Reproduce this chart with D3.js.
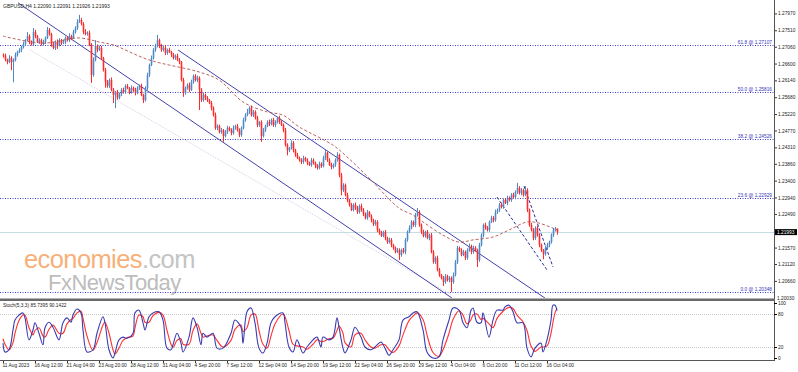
<!DOCTYPE html>
<html>
<head>
<meta charset="utf-8">
<script src="https://cdn.jsdelivr.net/npm/d3@7/dist/d3.min.js"></script>
<style>
  body { margin: 0; background: #fff; }
  svg { display: block; }
  text { font-family: "Liberation Sans", Arial, sans-serif; }
</style>
</head>
<body>
<div id="chart"></div>
<script>
// GBPUSD H4 candles, one per bar (open = previous close)
var firstOpen = 1.2684;
var closes = [
  1.2681,1.2670,1.2664,1.2675,1.2664,1.2670,1.2684,1.2692,1.2697,1.2705,1.2713,1.2724,1.2735,1.2719,1.2713,1.2746,1.2735,1.2719,1.2724,1.2713,
  1.2719,1.2730,1.2752,1.2741,1.2713,1.2703,1.2719,1.2711,1.2724,1.2716,1.2719,1.2730,1.2724,1.2735,1.2730,1.2746,1.2757,1.2774,1.2779,1.2768,
  1.2746,1.2741,1.2744,1.2711,1.2629,1.2670,1.2708,1.2697,1.2703,1.2675,1.2642,1.2610,1.2599,1.2615,1.2588,1.2574,1.2582,1.2566,1.2577,1.2588,
  1.2582,1.2599,1.2593,1.2582,1.2593,1.2588,1.2580,1.2593,1.2599,1.2574,1.2560,1.2593,1.2629,1.2656,1.2675,1.2697,1.2708,1.2724,1.2708,1.2697,
  1.2703,1.2689,1.2697,1.2692,1.2684,1.2675,1.2681,1.2670,1.2664,1.2615,1.2580,1.2593,1.2601,1.2588,1.2610,1.2626,1.2615,1.2621,1.2588,1.2560,
  1.2574,1.2566,1.2560,1.2552,1.2539,1.2519,1.2484,1.2489,1.2473,1.2478,1.2462,1.2473,1.2484,1.2478,1.2470,1.2484,1.2489,1.2478,1.2465,1.2484,
  1.2506,1.2519,1.2528,1.2539,1.2519,1.2528,1.2511,1.2492,1.2500,1.2462,1.2478,1.2489,1.2500,1.2495,1.2506,1.2492,1.2500,1.2511,1.2500,1.2492,
  1.2478,1.2437,1.2423,1.2429,1.2443,1.2423,1.2410,1.2402,1.2396,1.2391,1.2402,1.2396,1.2388,1.2383,1.2396,1.2388,1.2380,1.2375,1.2386,1.2380,
  1.2402,1.2416,1.2396,1.2383,1.2377,1.2383,1.2396,1.2410,1.2355,1.2314,1.2328,1.2301,1.2287,1.2274,1.2260,1.2274,1.2266,1.2254,1.2271,1.2260,
  1.2249,1.2238,1.2254,1.2243,1.2232,1.2221,1.2227,1.2205,1.2197,1.2189,1.2200,1.2183,1.2172,1.2178,1.2164,1.2156,1.2145,1.2150,1.2137,1.2150,
  1.2145,1.2178,1.2200,1.2211,1.2227,1.2219,1.2246,1.2254,1.2219,1.2200,1.2189,1.2200,1.2183,1.2191,1.2145,1.2118,1.2129,1.2096,1.2082,1.2074,
  1.2063,1.2079,1.2068,1.2074,1.2063,1.2082,1.2118,1.2156,1.2150,1.2137,1.2145,1.2129,1.2150,1.2161,1.2145,1.2156,1.2150,1.2123,1.2164,1.2191,
  1.2219,1.2211,1.2205,1.2227,1.2238,1.2232,1.2254,1.2260,1.2274,1.2268,1.2287,1.2279,1.2293,1.2287,1.2301,1.2295,1.2309,1.2320,1.2306,1.2314,
  1.2301,1.2314,1.2260,1.2219,1.2205,1.2183,1.2211,1.2191,1.2164,1.2150,1.2139,1.2156,1.2164,1.2172,1.2191,1.2205,1.2209,1.21993
];
// wick lengths in pips above / below the body
var upWick = [
  4,6,3,8,5,4,6,3,5,4,7,3,11,5,4,11,6,3,5,4,
  6,4,8,5,3,6,4,7,5,3,6,4,5,8,4,6,5,7,14,6,
  5,8,4,6,5,7,16,4,6,5,3,6,5,4,7,5,3,6,4,5,
  6,4,5,3,7,4,6,5,4,6,3,5,6,4,7,5,6,14,4,6,
  5,7,4,6,3,5,4,6,5,3,6,4,5,7,6,4,5,6,4,5,
  6,4,5,3,6,4,7,5,4,6,3,5,6,4,5,7,4,6,5,4,
  6,5,8,4,6,5,4,6,3,5,6,4,5,7,4,6,5,4,6,5,
  4,6,5,3,7,5,4,6,4,5,6,3,5,4,6,5,4,5,6,4,
  6,8,4,5,6,4,5,8,4,6,5,4,6,3,5,4,6,5,4,6,
  5,4,6,3,5,4,6,5,4,6,3,5,4,6,5,3,4,6,5,4,
  6,5,4,7,5,4,6,11,5,4,6,3,5,4,6,5,4,6,5,3,
  5,6,4,5,4,7,5,6,4,5,6,4,5,7,4,6,5,4,6,5,
  4,6,5,4,6,5,7,4,5,6,4,5,6,4,5,6,4,14,5,6,
  4,11,5,4,6,5,4,6,5,4,3,5,6,4,5,6,4,0
];
var dnWick = [
  5,4,6,3,22,55,4,5,3,6,4,5,3,6,4,5,6,3,5,4,
  4,6,3,5,7,4,6,11,4,5,3,6,4,5,6,3,4,5,3,4,
  6,4,5,3,22,5,4,6,3,5,4,16,5,6,4,22,36,5,4,6,
  4,5,3,6,4,5,7,4,5,3,8,4,5,6,3,4,5,4,6,5,
  4,6,5,3,6,4,5,3,6,4,11,5,4,6,3,5,4,6,55,5,
  4,6,5,3,7,4,5,6,4,5,16,4,5,3,6,4,5,4,6,5,
  4,5,3,6,4,5,4,6,5,16,4,5,3,6,4,5,6,4,5,3,
  6,4,14,5,4,6,5,3,4,6,5,4,6,3,5,4,6,5,4,5,
  4,6,5,3,6,4,5,4,6,14,5,4,6,5,3,4,6,5,4,5,
  6,4,5,3,6,5,4,6,5,3,4,6,5,4,6,5,4,3,14,5,
  4,6,5,3,4,5,6,4,5,6,4,5,3,6,4,5,6,4,5,4,
  11,5,4,6,27,5,4,6,5,4,3,6,5,4,6,5,4,19,5,4,
  6,5,4,5,3,6,4,5,6,4,5,3,6,4,5,4,6,5,4,6,
  5,4,6,5,4,6,5,4,6,5,14,4,5,6,4,5,4,7
];

// moving average, read at a few bars
var maBar = [0,20,38,48,55,73,98,108,120,132,140,148,165,172,183,198,205,210,220,228,235,245,253,262,268,277];
var maVal = [1.2735,1.2716,1.2730,1.2719,1.2711,1.2670,1.2637,1.2615,1.2555,1.2528,1.2519,1.2487,1.2437,1.2405,1.2347,1.2265,1.2246,1.2227,1.2191,1.2172,1.2178,1.2186,1.2205,1.2227,1.2224,1.2205];

// stochastic (5,3,3)
var stBar = [0,1,3,5,6,8,10,11,13,15,16,18,20,21,23,25,28,30,32,34,35,37,39,40,42,45,47,50,51,53,55,56,58,60,62,65,66,68,70,71,73,75,78,80,82,84,85,87,89,90,93,95,97,99,100,102,105,107,110,114,116,119,120,122,124,126,128,130,132,134,136,140,141,143,145,147,150,152,155,157,159,160,163,165,167,168,170,171,174,176,179,181,184,186,189,191,193,195,198,200,203,205,207,210,212,215,218,220,223,225,228,230,232,234,235,237,239,240,243,245,247,250,251,253,255,257,260,262,264,266,269,270,272,274,275,276,277];
var stK = [27,11,15,51,69,78,82,73,33,51,64,45,24,55,65,56,33,64,73,65,78,89,82,51,11,15,45,75,64,15,0,9,33,38,36,45,82,87,64,51,75,82,84,69,18,15,24,45,27,11,38,73,56,24,45,38,45,18,18,45,69,56,27,84,91,64,18,9,27,64,75,82,64,20,11,33,9,20,33,38,20,38,33,38,73,56,18,9,33,56,38,20,15,20,29,18,5,15,33,69,75,82,84,51,11,0,2,33,69,91,87,64,55,87,91,65,64,82,38,69,87,87,93,96,84,64,64,18,2,18,27,11,33,69,96,96,86];
var stD = [35,25,15,28,45,68,78,78,55,42,50,55,40,38,52,60,45,45,62,70,72,82,85,72,40,14,28,60,65,45,15,7,18,32,37,40,55,78,75,65,65,77,83,78,50,25,19,32,35,25,25,50,62,45,38,40,42,32,20,32,52,60,48,55,78,80,50,25,18,40,62,80,75,50,25,22,20,16,25,33,30,30,35,36,50,58,45,28,20,42,45,33,20,18,24,24,15,10,22,42,68,76,82,70,42,10,3,15,45,70,86,78,62,70,78,80,70,72,62,55,72,85,88,92,90,78,66,50,22,12,20,20,22,45,65,82,90];

// fibonacci levels
var fibNames = ["61.8", "50.0", "38.2", "23.6", "0.0"];
var fibVals = [1.27107, 1.25816, 1.24526, 1.22929, 1.20348];

// trend lines: [bar, price] pairs
var chanA = [[7.5, 1.2826], [224.5, 1.2019]];
var chanB = [[87.5, 1.2697], [271, 1.2019]];
var chanC = [[13.5, 1.2697], [224.5, 1.2027]];
var wedge1 = [[247, 1.2295], [272, 1.2096]];
var wedge2 = [[260.5, 1.2325], [275, 1.2104]];

var priceTicks = [1.27970,1.27510,1.27060,1.26600,1.26140,1.25680,1.25220,1.24770,1.24310,1.23860,1.23400,1.22940,1.22490,1.21570,1.21120,1.20660];
var lastPrice = 1.21993;
var dateBars = [0,16,32,48,64,80,96,112,128,144,160,176,192,208,224,240,256,272];
var dateLabels = ["11 Aug 2023","16 Aug 12:00","21 Aug 04:00","23 Aug 20:00","28 Aug 12:00","31 Aug 04:00","4 Sep 20:00","7 Sep 12:00","12 Sep 04:00","14 Sep 20:00","19 Sep 12:00","22 Sep 04:00","26 Sep 20:00","29 Sep 12:00","4 Oct 04:00","6 Oct 20:00","11 Oct 12:00","16 Oct 04:00"];

var W = 798, H = 372, axisX = 774;
var mainTop = 0, mainBot = 298, stTop = 302, stBot = 360;

var svg = d3.select("#chart").append("svg").attr("width", W).attr("height", H);

var x = d3.scaleLinear().domain([0, closes.length - 1]).range([3, 557]);
var y = d3.scaleLinear().domain([1.20348, 1.27107]).range([292.3, 45]);
var ys = d3.scaleLinear().domain([0, 100]).range([358, 303]);

var defs = svg.append("defs");
defs.append("clipPath").attr("id", "clipMain").append("rect")
  .attr("x", 0).attr("y", mainTop).attr("width", axisX).attr("height", mainBot - mainTop);
defs.append("clipPath").attr("id", "clipSt").append("rect")
  .attr("x", 0).attr("y", stTop).attr("width", axisX).attr("height", stBot - stTop);

var main = svg.append("g").attr("clip-path", "url(#clipMain)");

// watermark
var wm = main.append("g").attr("font-family", "'Open Sans', 'Noto Sans', sans-serif");
var t1 = wm.append("text").attr("x", 24).attr("y", 268).attr("font-size", 25.5).attr("letter-spacing", -0.6);
t1.append("tspan").attr("fill", "#f6b07a").text("economies");
t1.append("tspan").attr("fill", "#c4c4c4").text(".com");
wm.append("text").attr("x", 48).attr("y", 290).attr("font-size", 22).attr("fill", "#bdbdbd")
  .attr("letter-spacing", -0.5).text("FxNewsToday");

// current price line
main.append("line").attr("x1", 0).attr("x2", axisX)
  .attr("y1", Math.round(y(lastPrice)) + 0.5).attr("y2", Math.round(y(lastPrice)) + 0.5)
  .attr("stroke", "#c6dde3").attr("stroke-width", 1);

// fibo lines
fibVals.forEach(function(v, k) {
  var yy = Math.round(y(v)) + 0.5;
  main.append("line").attr("x1", 0).attr("x2", axisX).attr("y1", yy).attr("y2", yy)
    .attr("stroke", "#3a3abf").attr("stroke-dasharray", "1,1.5");
  main.append("text").attr("x", axisX - 2).attr("y", yy - 1.5)
    .attr("text-anchor", "end").attr("font-size", 4.8).attr("fill", "#3636b8")
    .text(fibNames[k] + " @ " + v.toFixed(5));
});

var lineGen = d3.line().x(function(d) { return x(d[0]); }).y(function(d) { return y(d[1]); });

main.append("path").attr("d", lineGen(chanC)).attr("fill", "none")
  .attr("stroke", "#d9cce8").attr("stroke-dasharray", "1,1");
main.append("path").attr("d", lineGen(chanA)).attr("fill", "none").attr("stroke", "#4343aa");
main.append("path").attr("d", lineGen(chanB)).attr("fill", "none").attr("stroke", "#4343aa");
[wedge1, wedge2].forEach(function(w) {
  main.append("path").attr("d", lineGen(w)).attr("fill", "none")
    .attr("stroke", "#2a2a9c").attr("stroke-dasharray", "3,2");
});

// candles
var bars = closes.map(function(c, i) {
  var o = i ? closes[i - 1] : firstOpen;
  return {i: i, o: o, c: c,
    h: Math.max(o, c) + upWick[i] * 1e-4,
    l: Math.min(o, c) - dnWick[i] * 1e-4};
});
var bull = "#5089c6", bear = "#ff2b2b";
var cg = main.append("g");
cg.selectAll("line").data(bars).enter().append("line")
  .attr("x1", function(d) { return Math.round(x(d.i)) + 0.5; })
  .attr("x2", function(d) { return Math.round(x(d.i)) + 0.5; })
  .attr("y1", function(d) { return y(d.h); })
  .attr("y2", function(d) { return y(d.l); })
  .attr("stroke", function(d) { return d.c >= d.o ? bull : bear; })
  .attr("stroke-width", 1);
cg.selectAll("rect").data(bars).enter().append("rect")
  .attr("x", function(d) { return Math.round(x(d.i)) - 0.3; })
  .attr("width", 1.6)
  .attr("y", function(d) { return y(Math.max(d.o, d.c)); })
  .attr("height", function(d) { return Math.max(1, Math.abs(y(d.o) - y(d.c))); })
  .attr("fill", function(d) { return d.c >= d.o ? bull : bear; });

// moving average
var maLine = d3.line().curve(d3.curveCatmullRom)
  .x(function(d, k) { return x(maBar[k]); }).y(function(d) { return y(d); });
main.append("path").attr("d", maLine(maVal)).attr("fill", "none")
  .attr("stroke", "#b04a44").attr("stroke-width", 1).attr("stroke-dasharray", "3,2")
  .attr("opacity", 0.85);

// title
svg.append("text").attr("x", 3).attr("y", 8).attr("font-size", 5).attr("fill", "#222")
  .text("GBPUSD,H4  1.22090 1.22091 1.21926 1.21993");

// price axis
var yAxis = svg.append("g").attr("transform", "translate(" + axisX + ",0)")
  .call(d3.axisRight(y).tickValues(priceTicks).tickSize(3).tickPadding(1).tickFormat(d3.format(".5f")));
yAxis.select(".domain").remove();
yAxis.selectAll("text").attr("font-size", 4.8).attr("fill", "#222").attr("font-family", "'Liberation Sans', Arial, sans-serif");
yAxis.selectAll("line").attr("stroke", "#333");
svg.append("text").attr("x", axisX + 3).attr("y", 300).attr("font-size", 4.8).attr("fill", "#222").text("1.20030");

// last price box
var ly = y(lastPrice);
svg.append("rect").attr("x", axisX + 1).attr("y", ly - 3).attr("width", 22).attr("height", 6).attr("fill", "#000");
svg.append("text").attr("x", axisX + 3).attr("y", ly + 1.8).attr("font-size", 4.8).attr("fill", "#fff").text(lastPrice.toFixed(5));

// frame lines
svg.append("line").attr("x1", axisX + 0.5).attr("x2", axisX + 0.5).attr("y1", 0).attr("y2", stBot + 1)
  .attr("stroke", "#555");
svg.append("rect").attr("x", 0).attr("y", 298.5).attr("width", axisX + 1).attr("height", 2.5).attr("fill", "#6a6a6a");
svg.append("line").attr("x1", 0).attr("x2", axisX + 1).attr("y1", stBot + 0.5).attr("y2", stBot + 0.5)
  .attr("stroke", "#555");

// stochastic panel
var st = svg.append("g").attr("clip-path", "url(#clipSt)");
[80, 20].forEach(function(v) {
  st.append("line").attr("x1", 0).attr("x2", axisX).attr("y1", Math.round(ys(v)) + 0.5).attr("y2", Math.round(ys(v)) + 0.5)
    .attr("stroke", "#c8c8c8").attr("stroke-dasharray", "1,1");
});
var stLine = d3.line().curve(d3.curveCatmullRom)
  .x(function(d, k) { return x(stBar[k]); }).y(function(d) { return ys(d); });
st.append("path").attr("d", stLine(stD)).attr("fill", "none").attr("stroke", "#ff3030").attr("stroke-width", 1.1);
st.append("path").attr("d", stLine(stK)).attr("fill", "none").attr("stroke", "#3b3bb0").attr("stroke-width", 1.1);
svg.append("text").attr("x", 3).attr("y", 307).attr("font-size", 4.8).attr("fill", "#222")
  .text("Stoch(5,3,3) 85.7395 90.1422");

var sAxis = svg.append("g").attr("transform", "translate(" + axisX + ",0)")
  .call(d3.axisRight(ys).tickValues([100, 80, 20, 0]).tickSize(3).tickPadding(1));
sAxis.select(".domain").remove();
sAxis.selectAll("text").attr("font-size", 4.8).attr("fill", "#222").attr("font-family", "'Liberation Sans', Arial, sans-serif");

// date axis
var xAxis = svg.append("g").attr("transform", "translate(0," + (stBot + 1) + ")")
  .call(d3.axisBottom(x).tickValues(dateBars).tickSize(2).tickPadding(1)
    .tickFormat(function(d, k) { return dateLabels[k]; }));
xAxis.select(".domain").remove();
xAxis.selectAll("text").attr("font-size", 4.8).attr("fill", "#222").attr("text-anchor", "start")
  .attr("dx", -1).attr("font-family", "'Liberation Sans', Arial, sans-serif");
xAxis.selectAll("line").attr("stroke", "#333");
</script>
</body>
</html>
